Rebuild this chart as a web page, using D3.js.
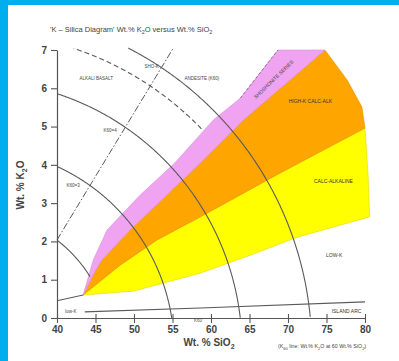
<!DOCTYPE html>
<html><head><meta charset="utf-8">
<script src="https://cdn.jsdelivr.net/npm/d3@7"></script>
<style>body{margin:0;background:#fff}svg{display:block}text{font-family:"Liberation Sans",Arial,sans-serif}</style>
</head><body><svg id="c" width="399" height="361"></svg>
<script>
const xTicks=[40,45,50,55,60,65,70,75,80];
const yTicks=[0,1,2,3,4,5,6,7];
const yellowField=[[43.4,0.6],[49.9,0.7],[58.6,1.17],[65.1,1.64],[71.2,2.11],[80.6,2.64],[80.4,3.73],[80.0,4.96],[69.0,3.79],[58.6,2.64],[53.0,2.04],[48.2,1.38]];
const orangeField=[[43.4,0.6],[48.2,1.38],[53.0,2.04],[58.6,2.64],[69.0,3.79],[80.0,4.96],[79.6,5.51],[77.7,6.21],[74.8,7.0],[64.2,5.17],[58.6,4.05],[49.5,2.30],[45.8,1.51],[44.9,1.20]];
const pinkField=[[43.4,0.6],[44.9,1.20],[45.8,1.51],[49.5,2.30],[58.6,4.05],[64.2,5.17],[74.8,7.0],[68.7,7.0],[63.8,5.74],[60.3,5.17],[55.3,4.05],[50.8,3.21],[46.5,2.30],[44.7,1.51]];
const arcCenter=[29.2,-0.8];
const arcCross=[46.5,54.9,63.8,70.1,72.9];
const arcStop=[44.3,80,80,58.8,80];
const k60Line=[[40,2.04],[55.1,7.05]];
const lowLine=[[40,0.45],[43.4,0.6]];
const baseLine=[[43.6,0.16],[58.6,0.26],[80,0.42]];
const edgeLine=[[63.8,5.74],[68.7,7.0]];
const fieldLabels=[["CALC-ALKALINE",75.9,3.52],["HIGH-K CALC-ALK",72.9,5.62],["LOW-K",76.0,1.6],["ISLAND ARC",77.6,0.12]];
const lineLabels=[["ALKALI BASALT",45.1,6.22],["SHO-K",52.3,6.52],["ANDESITE (K60)",58.8,6.22],["K60=4",46.9,4.85],["K60=3",42.1,3.42],["low-K",41.8,0.13]];

const svg=d3.select("#c");
svg.append("rect").attr("x",0).attr("y",0).attr("width",399).attr("height",361).attr("fill","#fff");
svg.append("rect").attr("x",0).attr("y",0).attr("width",8).attr("height",361).attr("fill","#00AEEF");
svg.append("rect").attr("x",0).attr("y",0).attr("width",399).attr("height",5).attr("fill","#00AEEF");

const x=d3.scaleLinear().domain([40,80]).range([57,365]);
const y=d3.scaleLinear().domain([0,7]).range([318,50]);
const line=d3.line().x(d=>x(d[0])).y(d=>y(d[1]));
const closed=d3.line().x(d=>x(d[0])).y(d=>y(d[1])).curve(d3.curveLinearClosed);

svg.append("path").attr("d",closed(yellowField)).attr("fill","#FFFF00").attr("stroke","#E8D800").attr("stroke-width",0.6);
svg.append("path").attr("d",closed(orangeField)).attr("fill","#FFA500").attr("stroke","#E89000").attr("stroke-width",0.6);
svg.append("path").attr("d",closed(pinkField)).attr("fill","#EFA3F0").attr("stroke","#D890D8").attr("stroke-width",0.6);

// arcs
const cx=x(arcCenter[0]),cy=y(arcCenter[1]);
arcCross.forEach((c,i)=>{
  const R=Math.hypot(x(c)-cx,y(0)-cy);
  const pts=d3.range(0,90.01,0.2).map(a=>{const r=a*Math.PI/180;return [cx+R*Math.cos(r),cy-R*Math.sin(r)];})
    .filter(p=>p[0]>=x(40)&&p[1]<=y(0)&&p[1]>=y(7.05)&&p[0]<=x(arcStop[i]));
  svg.append("path").attr("d",d3.line()(pts)).attr("fill","none")
    .attr("stroke","#5a5a5a").attr("stroke-width",1.1)
    .attr("stroke-dasharray",i===3?"5,3":null);
});
svg.append("path").attr("d",line(k60Line)).attr("fill","none").attr("stroke","#5a5a5a").attr("stroke-width",1).attr("stroke-dasharray","7,2,1.5,2");
svg.append("path").attr("d",line(lowLine)).attr("fill","none").attr("stroke","#5a5a5a").attr("stroke-width",1.1);
svg.append("path").attr("d",line(baseLine)).attr("fill","none").attr("stroke","#5a5a5a").attr("stroke-width",1.1);
svg.append("path").attr("d",line(edgeLine)).attr("fill","none").attr("stroke","#9a6a9a").attr("stroke-width",1).attr("stroke-dasharray","3,2");

// labels
fieldLabels.forEach(d=>{
  svg.append("text").attr("x",x(d[1])).attr("y",y(d[2])).attr("text-anchor","middle")
   .attr("font-size",5).attr("fill","#333").text(d[0]);
});
lineLabels.forEach(d=>{
  svg.append("text").attr("x",x(d[1])).attr("y",y(d[2])).attr("text-anchor","middle")
   .attr("font-size",4.5).attr("fill","#444").text(d[0]);
});
svg.append("text").attr("transform",`translate(${x(68.3)},${y(6.2)}) rotate(-44)`).attr("text-anchor","middle")
  .attr("font-size",5).attr("fill","#444").text("SHOSHONITE SERIES");

// axes
const xa=svg.append("g").attr("transform",`translate(0,${y(0)})`)
  .call(d3.axisBottom(x).tickValues(xTicks).tickFormat(d3.format("d")).tickSize(5).tickSizeOuter(0).tickPadding(3));
xa.selectAll(".tick line").attr("y1",-4);
const ya=svg.append("g").attr("transform",`translate(${x(40)},0)`)
  .call(d3.axisLeft(y).tickValues(yTicks).tickFormat(d3.format("d")).tickSize(6).tickSizeOuter(0).tickPadding(4));
[xa,ya].forEach(g=>{
  g.select(".domain").attr("stroke","#555").attr("stroke-width",1.2);
  g.selectAll(".tick line").attr("stroke","#555").attr("stroke-width",1.1);
  g.selectAll(".tick text").attr("font-size",10).attr("fill","#444").attr("font-weight","bold").style("font-family",'"Liberation Sans",Arial,sans-serif');
});
svg.append("text").attr("x",x(58.3)).attr("y",y(0)+4).attr("text-anchor","middle").attr("font-size",4.5).attr("fill","#555").text("K60");

// titles
const xt=svg.append("text").attr("x",209).attr("y",346).attr("text-anchor","middle").attr("font-size",10).attr("fill","#444").attr("font-weight","bold");
xt.append("tspan").text("Wt. % SiO");xt.append("tspan").attr("font-size",7).attr("dy",2.5).text("2");
const yt=svg.append("text").attr("transform","translate(24,185) rotate(-90)").attr("text-anchor","middle").attr("font-size",10).attr("fill","#444").attr("font-weight","bold");
yt.append("tspan").text("Wt. % K");yt.append("tspan").attr("font-size",7).attr("dy",2.5).text("2");yt.append("tspan").attr("dy",-2.5).text("O");
const tt=svg.append("text").attr("x",50).attr("y",32).attr("font-size",7.5).attr("fill","#444");
tt.append("tspan").text("'K – Silica Diagram'  Wt.% K");tt.append("tspan").attr("font-size",5.5).attr("dy",2).text("2");
tt.append("tspan").attr("dy",-2).text("O versus Wt.% SiO");tt.append("tspan").attr("font-size",5.5).attr("dy",2).text("2");
const ft=svg.append("text").attr("x",278).attr("y",348).attr("font-size",5.3).attr("fill","#444");
ft.append("tspan").text("(K");ft.append("tspan").attr("font-size",4).attr("dy",1.5).text("60");
ft.append("tspan").attr("dy",-1.5).text(" line: Wt.% K");ft.append("tspan").attr("font-size",4).attr("dy",1.5).text("2");
ft.append("tspan").attr("dy",-1.5).text("O at 60 Wt.% SiO");ft.append("tspan").attr("font-size",4).attr("dy",1.5).text("2");
ft.append("tspan").attr("dy",-1.5).text(")");
</script></body></html>
